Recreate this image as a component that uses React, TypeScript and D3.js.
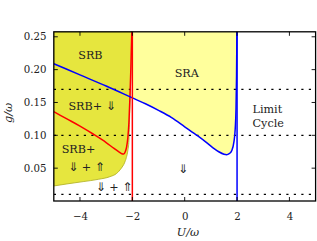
import React from "react";
import * as d3 from "d3";

// ---- data ----
const xTicks = [-4, -2, 0, 2, 4];
const yTicks = [0.05, 0.1, 0.15, 0.2, 0.25];
const dottedLevels = [0.01, 0.1, 0.17];
const redCritU = -2;
const blueCritU = 2;

// blue curve (SRA lower boundary)
const blueU = [-5, -4, -3, -2, -1.5, -1, -0.5, 0, 0.5, 0.8, 1.08, 1.3, 1.5, 1.6, 1.7, 1.8, 1.88, 1.93, 1.96, 1.98, 1.995];
const blueG = [0.209, 0.192, 0.175, 0.157, 0.148, 0.138, 0.127, 0.113, 0.099, 0.09, 0.081, 0.075, 0.0712, 0.0705, 0.072, 0.077, 0.09, 0.11, 0.14, 0.19, 0.26];

// red curve
const redU = [-5, -4.5, -4, -3.5, -3, -2.7, -2.5, -2.4, -2.33, -2.27, -2.22, -2.17, -2.13, -2.09, -2.05, -2.02];
const redG = [0.136, 0.125, 0.114, 0.102, 0.089, 0.08, 0.0745, 0.072, 0.0715, 0.075, 0.082, 0.097, 0.12, 0.16, 0.21, 0.26];

// SRB region lower boundary
const srbU = [-5, -4.5, -3.88, -3.3, -2.86, -2.6, -2.42, -2.3, -2.23, -2.17, -2.13, -2.11, -2.08, -2.05, -2.02];
const srbG = [0.0229, 0.026, 0.0295, 0.033, 0.037, 0.042, 0.05, 0.058, 0.066, 0.077, 0.092, 0.12, 0.16, 0.21, 0.26];

const labels = [
  { text: "SRB", u: -3.6, g: 0.2165, anchor: "middle" },
  { text: "SRA", u: 0.08, g: 0.1895, anchor: "middle" },
  { text: "SRB+ \u21D3", u: -4.44, g: 0.1378, anchor: "start" },
  { text: "SRB+", u: -4.7, g: 0.0736, anchor: "start" },
  { text: "\u21D3 + \u21D1", u: -4.45, g: 0.0457, anchor: "start" },
  { text: "\u21D3 + \u21D1", u: -3.4, g: 0.0152, anchor: "start" },
  { text: "\u21D3", u: -0.06, g: 0.0427, anchor: "middle" },
  { text: "Limit", u: 2.59, g: 0.134, anchor: "start" },
  { text: "Cycle", u: 2.59, g: 0.113, anchor: "start" },
];

const W = 317;
const H = 241;
const x = d3.scaleLinear().domain([-5, 5]).range([53.8, 315.6]);
const y = d3.scaleLinear().domain([0, 0.2576]).range([201, 31.8]);

const FONT = "DejaVu Serif";
const ARROWS = /([\u21D1\u21D3])/;

function renderLabel(text: string) {
  return text.split(ARROWS).filter((s) => s.length > 0).map((s, i) =>
    ARROWS.test(s) ? (
      <tspan key={i} fontFamily="DejaVu Sans" fontSize={12}>
        {s}
      </tspan>
    ) : (
      <tspan key={i}>{s}</tspan>
    )
  );
}

export default function App() {
  const [x0, x1] = x.range();
  const [y0, y1] = y.range();
  const top = y.domain()[1];

  const blue = blueU.map((u, i) => [u, blueG[i]] as [number, number]);
  const red = redU.map((u, i) => [u, redG[i]] as [number, number]);
  const srb = srbU.map((u, i) => [u, srbG[i]] as [number, number]);

  const line = d3
    .line<[number, number]>()
    .x((d) => x(d[0]))
    .y((d) => y(d[1]))
    .curve(d3.curveMonotoneX);

  const srbPath =
    `M${x(-5)},${y(top)} L${x(-5)},${y(srb[0][1])} ` +
    line(srb)!.replace(/^M/, "L") +
    ` L${x(redCritU)},${y(top)} Z`;

  const blueRight = blue.filter((d) => d[0] >= -2);
  const sraPath =
    `M${x(redCritU)},${y(top)} ` + line(blueRight)!.replace(/^M/, "L") + ` Z`;

  const tickLen = 4;

  return (
    <svg width={W} height={H} style={{ position: "absolute", left: 0, top: 0 }} fontFamily={FONT}>
      <defs>
        <clipPath id="plot">
          <rect x={x0} y={y1} width={x1 - x0} height={y0 - y1} />
        </clipPath>
      </defs>
      <rect x={0} y={0} width={W} height={H} fill="white" />
      <g clipPath="url(#plot)">
        <path d={srbPath} fill="#e6e63e" stroke="#b4b42a" strokeWidth={0.9} />
        <path d={sraPath} fill="#ffff9c" stroke="none" />
        {dottedLevels.map((g) => (
          <line
            key={g}
            x1={x0}
            x2={x1}
            y1={y(g)}
            y2={y(g)}
            stroke="black"
            strokeWidth={1.3}
            strokeDasharray="2.2,5.3"
          />
        ))}
        <path d={line(red)!} fill="none" stroke="#ff0000" strokeWidth={1.5} />
        <path d={line(blue)!} fill="none" stroke="#0000ff" strokeWidth={1.5} />
        <line x1={x(redCritU)} x2={x(redCritU)} y1={y0} y2={y1} stroke="#ff0000" strokeWidth={1.5} />
        <line x1={x(blueCritU)} x2={x(blueCritU)} y1={y0} y2={y1} stroke="#0000ff" strokeWidth={1.5} />
      </g>

      {labels.map((l, i) => (
        <text key={i} x={x(l.u)} y={y(l.g)} fontSize={11.2} textAnchor={l.anchor as any} fill="#222">
          {renderLabel(l.text)}
        </text>
      ))}

      {xTicks.map((t) => (
        <g key={"x" + t}>
          <line x1={x(t)} x2={x(t)} y1={y0} y2={y0 - tickLen} stroke="black" strokeWidth={0.9} />
          <line x1={x(t)} x2={x(t)} y1={y1} y2={y1 + tickLen} stroke="black" strokeWidth={0.9} />
          <text x={x(t) + 0.5} y={219.5} fontSize={10.2} textAnchor="middle" fill="#222">
            {t < 0 ? "\u2212" + Math.abs(t) : String(t)}
          </text>
        </g>
      ))}
      {yTicks.map((t) => (
        <g key={"y" + t}>
          <line x1={x0} x2={x0 + tickLen} y1={y(t)} y2={y(t)} stroke="black" strokeWidth={0.9} />
          <line x1={x1} x2={x1 - tickLen} y1={y(t)} y2={y(t)} stroke="black" strokeWidth={0.9} />
          <text x={46.5} y={y(t) + 3.6} fontSize={10.2} textAnchor="end" fill="#222">
            {t.toFixed(2)}
          </text>
        </g>
      ))}

      <rect x={x0} y={y1} width={x1 - x0} height={y0 - y1} fill="none" stroke="black" strokeWidth={1.3} />

      <text x={188} y={236} fontSize={11.2} textAnchor="middle" fontStyle="italic" fill="#222">
        U/ω
      </text>
      <text
        transform="translate(11.5,113) rotate(-90)"
        fontSize={11.2}
        textAnchor="middle"
        fontStyle="italic"
        fill="#222"
      >
        g/ω
      </text>
    </svg>
  );
}
